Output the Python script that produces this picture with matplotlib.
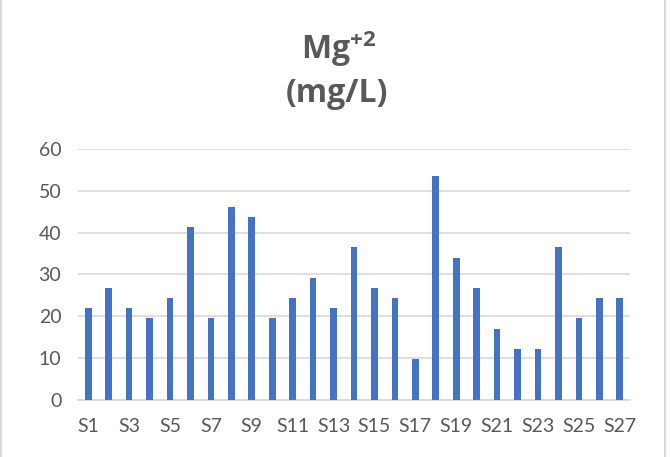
import numpy as np
import matplotlib.pyplot as plt
from matplotlib.patches import Rectangle

sites = ["S%d" % i for i in range(1, 28)]
mg = [22.0, 26.7, 22.0, 19.5, 24.3, 41.3, 19.5, 46.2, 43.8, 19.5,
      24.3, 29.2, 22.0, 36.5, 26.7, 24.3, 9.7, 53.5, 34.0, 26.7,
      17.0, 12.2, 12.2, 36.5, 19.5, 24.3, 24.3]
y_ticks = [0, 10, 20, 30, 40, 50, 60]

grey = "#595959"
plt.rcParams['font.family'] = ['Lato', 'DejaVu Sans']
plt.rcParams['mathtext.fontset'] = 'custom'
plt.rcParams['mathtext.rm'] = 'Open Sans:bold'
plt.rcParams['mathtext.it'] = 'Open Sans:bold'
plt.rcParams['mathtext.bf'] = 'Open Sans:bold'


def main():
    fig = plt.figure(figsize=(6.7, 4.57), dpi=100)
    ax = fig.add_axes([0.1164, 0.1247, 0.8239, 0.5493])

    x = np.arange(len(sites))
    ax.bar(x, mg, width=0.33, color="#4472C4", zorder=3)

    ax.set_xlim(-0.5, len(sites) - 0.5)
    ax.set_ylim(0, 60)
    ax.set_yticks(y_ticks)
    ax.set_xticks(x[::2])
    ax.set_xticklabels(sites[::2])
    ax.tick_params(axis="both", length=0, labelsize=14, colors=grey)
    ax.tick_params(axis="x", pad=13)
    ax.tick_params(axis="y", pad=12)
    ax.grid(axis="y", color="#d9d9d9", linewidth=1.2, zorder=0)
    for s in ["top", "right", "left"]:
        ax.spines[s].set_visible(False)
    ax.spines["bottom"].set_color("#d9d9d9")
    ax.spines["bottom"].set_linewidth(1.2)

    fig.text(0.505, 0.893, "Mg$^{+2}$", ha="center", va="center",
             fontsize=23, fontweight="bold", color=grey, family="Open Sans")
    fig.text(0.503, 0.795, "(mg/L)", ha="center", va="center",
             fontsize=23, fontweight="bold", color=grey, family="Open Sans")

    fig.patches.append(Rectangle((0.002, -0.01), 0.99, 1.2, transform=fig.transFigure,
                                 fill=False, edgecolor="#d9d9d9", linewidth=1.5))

    fig.savefig("out.png", dpi=100)


if __name__ == "__main__":
    main()
